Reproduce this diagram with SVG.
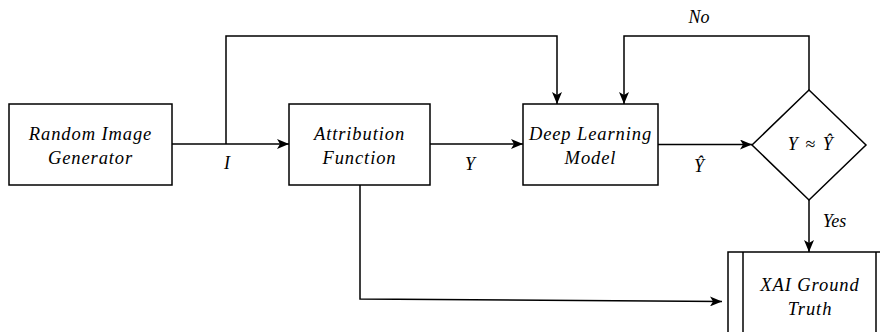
<svg xmlns="http://www.w3.org/2000/svg" width="880" height="332" viewBox="0 0 880 332">
  <defs>
    <marker id="arr" viewBox="0 0 12 10" refX="12" refY="5" markerWidth="12" markerHeight="10" markerUnits="userSpaceOnUse" orient="auto">
      <path d="M0,0 L12,5 L0,10 L3,5 Z" fill="#000"/>
    </marker>
    <style>
      .box { fill: #fff; stroke: #000; stroke-width: 1.5; }
      .conn { fill: none; stroke: #000; stroke-width: 1.5; }
      text { font-family: 'Liberation Serif', 'Times New Roman', serif; font-style: italic; fill: #000; text-anchor: middle; font-size: 18px; }
      .t { font-size: 18.5px; letter-spacing: 0.9px; }
      .s { letter-spacing: 1.5px; }
    </style>
  </defs>
  <rect width="880" height="332" fill="#fff"/>

  <g id="connectors">
    <path class="conn" d="M172,144 H289" marker-end="url(#arr)"/>
    <path class="conn" d="M226,144 V36 H557 V104" marker-end="url(#arr)"/>
    <path class="conn" d="M430,144 H523" marker-end="url(#arr)"/>
    <path class="conn" d="M658,144.5 H752" marker-end="url(#arr)"/>
    <path class="conn" d="M809,90 V36 H624 V104" marker-end="url(#arr)"/>
    <path class="conn" d="M809,200 V252" marker-end="url(#arr)"/>
    <path class="conn" d="M360,185 V299 L722,301.5" marker-end="url(#arr)"/>
    <text x="227" y="169">I</text>
    <text x="470" y="170">Y</text>
    <text x="699" y="172">Ŷ</text>
    <text x="699" y="23">No</text>
    <text x="834.5" y="227">Yes</text>
  </g>

  <g id="random-image-generator">
    <rect class="box" x="9" y="104" width="163" height="81"/>
    <text class="t" x="90.5" y="140">Random Image</text>
    <text class="t" x="90.5" y="164">Generator</text>
  </g>

  <g id="attribution-function">
    <rect class="box" x="289" y="104" width="141" height="81"/>
    <text class="t" x="359.5" y="140">Attribution</text>
    <text class="t" x="359.5" y="164">Function</text>
  </g>

  <g id="deep-learning-model">
    <rect class="box" x="523" y="104" width="135" height="81"/>
    <text class="t" x="590.5" y="140">Deep Learning</text>
    <text class="t" x="590.5" y="164">Model</text>
  </g>

  <g id="decision">
    <polygon class="box" points="809,90 866,145 809,200 752,145"/>
    <text class="s" x="811" y="150">Y ≈ Ŷ</text>
  </g>

  <g id="xai-ground-truth">
    <rect class="box" x="728" y="252" width="163" height="96"/>
    <line class="conn" x1="743" y1="252" x2="743" y2="348"/>
    <line class="conn" x1="876" y1="252" x2="876" y2="348"/>
    <text class="t" x="810" y="291">XAI Ground</text>
    <text class="t" x="810" y="315">Truth</text>
  </g>
</svg>
